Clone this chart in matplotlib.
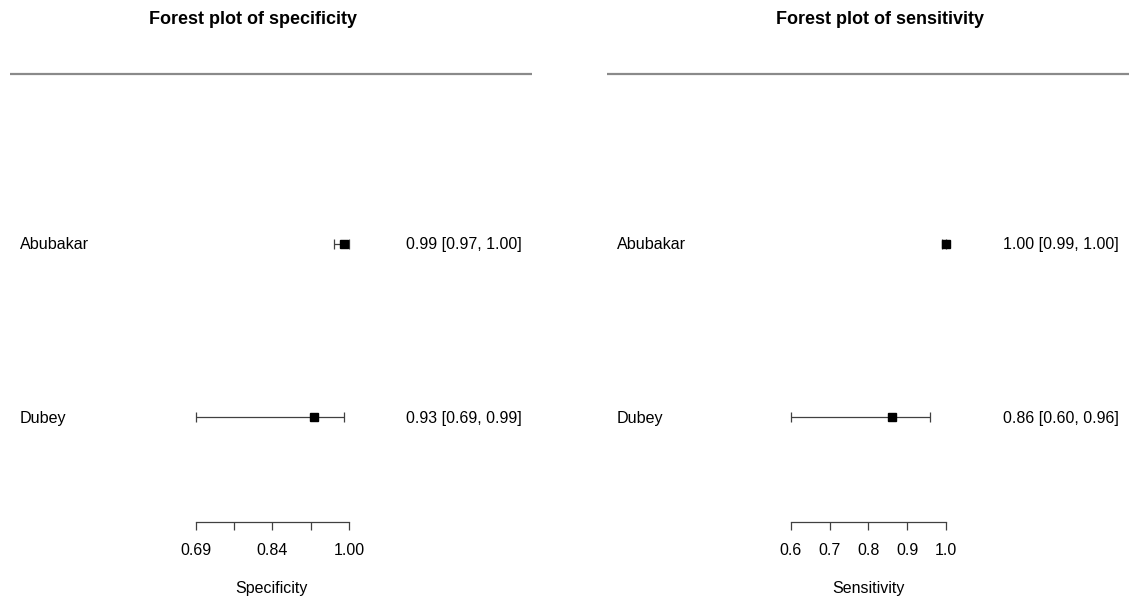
import matplotlib.pyplot as plt

plt.rcParams['font.family'] = ['Liberation Sans', 'DejaVu Sans']

studies = ["Abubakar", "Dubey"]

spec_est = [0.99, 0.93]
spec_lo = [0.97, 0.69]
spec_hi = [1.00, 0.99]
spec_ticks = [0.69, 0.7675, 0.845, 0.9225, 1.00]
spec_ticklabels = ["0.69", "", "0.84", "", "1.00"]

sens_est = [1.00, 0.86]
sens_lo = [0.99, 0.60]
sens_hi = [1.00, 0.96]
sens_ticks = [0.6, 0.7, 0.8, 0.9, 1.0]
sens_ticklabels = ["0.6", "0.7", "0.8", "0.9", "1.0"]

W, H = 1132, 599
fig = plt.figure(figsize=(W / 100, H / 100), dpi=100)

line_col = "#404040"
rows = [2, 1]  # Abubakar on top, Dubey below


def forest(left_px, xlim, est, lo, hi, ticks, ticklabels, title, title_x, xlabel):
    ax = fig.add_axes([left_px / W, 0, 522 / W, 1])
    ax.set_xlim(*xlim)
    ax.set_ylim(-0.052, 3.41)
    for s in ("left", "right", "top"):
        ax.spines[s].set_visible(False)
    ax.set_yticks([])

    # header rule
    ax.axhline(2.985, color="#8a8a8a", lw=1.6)

    # confidence intervals and point estimates
    for y, e, l, h in zip(rows, est, lo, hi):
        ax.errorbar([e], [y], xerr=[[e - l], [h - e]], fmt="none",
                    ecolor=line_col, elinewidth=0.9, capsize=3.4, capthick=0.9)
        ax.plot([e], [y], marker="s", ms=5.8, color="black", ls="none")

    # study labels and estimates text
    for y, name, e, l, h in zip(rows, studies, est, lo, hi):
        ax.text(0.0192, y - 0.006, name, transform=ax.get_yaxis_transform(),
                ha="left", va="center", fontsize=11.6)
        ax.text(0.981, y - 0.006, f"{e:.2f} [{l:.2f}, {h:.2f}]",
                transform=ax.get_yaxis_transform(),
                ha="right", va="center", fontsize=11.5)

    # bottom axis
    sp = ax.spines["bottom"]
    sp.set_position(("data", 0.393))
    sp.set_bounds(ticks[0], ticks[-1])
    sp.set_color(line_col)
    sp.set_linewidth(0.9)
    ax.set_xticks(ticks)
    ax.set_xticklabels(ticklabels)
    ax.tick_params(axis="x", direction="out", length=5.8, width=0.9,
                   color=line_col, labelsize=11.5, pad=9.5)
    ax.set_xlabel(xlabel, fontsize=11.5, labelpad=16.5)

    fig.text(title_x / W, 1 - 19 / H, title, ha="center", va="center",
             fontsize=13, fontweight="bold")
    return ax


forest(10, (0.3131, 1.3709), spec_est, spec_lo, spec_hi, spec_ticks,
       spec_ticklabels, "Forest plot of specificity", 253, "Specificity")
forest(607, (0.1252, 1.4723), sens_est, sens_lo, sens_hi, sens_ticks,
       sens_ticklabels, "Forest plot of sensitivity", 880, "Sensitivity")

fig.savefig("out.png", dpi=100, facecolor="white")
